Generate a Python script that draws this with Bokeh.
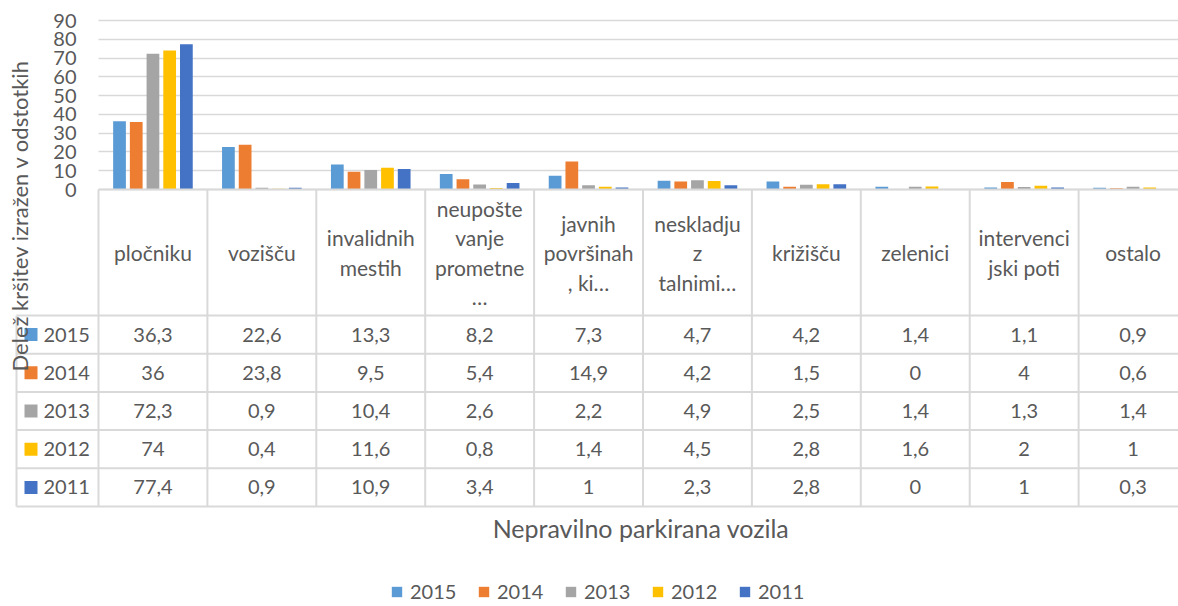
import numpy as np
from bokeh.plotting import figure
from bokeh.models import (ColumnDataSource, Range1d, LinearAxis, FixedTicker,
                          Legend, LegendItem, Grid)
from bokeh.transform import dodge
from bokeh.core.properties import value
from bokeh.embed import file_html
from bokeh.resources import INLINE

# ---------------- data ----------------
header_lines = [["pločniku"], ["vozišču"], ["invalidnih", "mestih"],
                ["neupošte", "vanje", "prometne", "…"],
                ["javnih", "površinah", ", ki…"],
                ["neskladju", "z", "talnimi…"],
                ["križišču"], ["zelenici"], ["intervenci", "jski poti"], ["ostalo"]]
years = ["2015", "2014", "2013", "2012", "2011"]
v2015 = [36.3, 22.6, 13.3, 8.2, 7.3, 4.7, 4.2, 1.4, 1.1, 0.9]
v2014 = [36, 23.8, 9.5, 5.4, 14.9, 4.2, 1.5, 0, 4, 0.6]
v2013 = [72.3, 0.9, 10.4, 2.6, 2.2, 4.9, 2.5, 1.4, 1.3, 1.4]
v2012 = [74, 0.4, 11.6, 0.8, 1.4, 4.5, 2.8, 1.6, 2, 1]
v2011 = [77.4, 0.9, 10.9, 3.4, 1, 2.3, 2.8, 0, 1, 0.3]
series = [v2015, v2014, v2013, v2012, v2011]
colors = ["#5B9BD5", "#ED7D31", "#A5A5A5", "#FFC000", "#4472C4"]
y_ticks = [0, 10, 20, 30, 40, 50, 60, 70, 80, 90]
y_title = "Delež kršitev izražen v odstotkih"
x_title = "Nepravilno parkirana vozila"

# ---------------- layout constants (page pixels) ----------------
OFF = 0
W, H = 1178, 606
PLOT_L = 98.0
COL_W = 108.9
Y0 = 189.0
PXU = 169.0 / 90.0
HDR_BOT = 315.0
ROW_H = 38.2
LEG_COL_L = 16.0
HDR_CY = 252.0
HDR_LS = 29.5
TITLE_CY = 215.0
FONT = "Lato"
TXT = "#595959"
LINE = "#D9D9D9"
BAR_STEP = 0.1535
BAR_W = 0.117
FS = "20px"
FS_HDR = "21px"

def xd(px):
    return (px - PLOT_L) / COL_W

def yd(py):
    return (Y0 - py) / PXU

n = len(header_lines)
p = figure(width=W, height=H, output_backend="svg", toolbar_location=None,
           x_range=Range1d(xd(OFF), xd(OFF + W)), y_range=Range1d(yd(OFF + H), yd(OFF)),
           min_border=0, x_axis_type=None, y_axis_type=None)
p.outline_line_color = None

# grid lines (value axis)
x_end = float(n)
if "cross_bounds" in Grid.properties():
    g = Grid(dimension=1, ticker=FixedTicker(ticks=y_ticks), cross_bounds=(0, x_end),
             grid_line_color=LINE, grid_line_width=1.5)
    p.add_layout(g)
else:
    p.segment(x0=[0] * len(y_ticks), x1=[x_end] * len(y_ticks), y0=y_ticks, y1=y_ticks,
              line_color=LINE, line_width=1.5, level="underlay")

# y axis
lo = 2 * yd(TITLE_CY) - (y_ticks[-1] + 0.5)
yax = LinearAxis(fixed_location=0, ticker=FixedTicker(ticks=y_ticks),
                 bounds=(lo, y_ticks[-1] + 0.5),
                 axis_label=y_title, axis_line_color=None,
                 major_tick_line_color=None, minor_tick_line_color=None,
                 major_tick_in=0, major_tick_out=0, major_label_standoff=22,
                 major_label_text_font=FONT, major_label_text_font_size=FS,
                 major_label_text_color=TXT,
                 axis_label_text_font=FONT, axis_label_text_font_size="22px",
                 axis_label_text_font_style="normal", axis_label_text_color=TXT,
                 axis_label_standoff=17)
p.add_layout(yax, "left")

# x axis title
tbl_bot = HDR_BOT + ROW_H * len(years)
xax = LinearAxis(fixed_location=yd(tbl_bot), ticker=FixedTicker(ticks=[]),
                 bounds=(0.05, x_end + 0.05), axis_label=x_title, axis_line_color=None,
                 major_tick_line_color=None, minor_tick_line_color=None,
                 major_label_text_font_size="0px",
                 axis_label_text_font=FONT, axis_label_text_font_size="25px",
                 axis_label_text_font_style="normal", axis_label_text_color=TXT,
                 axis_label_standoff=6)
p.add_layout(xax, "below")

# bars
data = dict(x=np.arange(n) + 0.5)
for yr, vals in zip(years, series):
    data[yr] = vals
src = ColumnDataSource(data)
renderers = []
for k, (yr, col) in enumerate(zip(years, colors)):
    r = p.vbar(x=dodge("x", (k - 2) * BAR_STEP), top=yr, bottom=0, width=BAR_W,
               source=src, fill_color=col, line_color=None)
    renderers.append(r)

# data table lines
row_tops = [HDR_BOT + ROW_H * i for i in range(len(years) + 1)]
hx0 = [xd(PLOT_L)] + [xd(LEG_COL_L)] * len(row_tops)
hx1 = [x_end] * (len(row_tops) + 1)
hy = [yd(Y0)] + [yd(t) for t in row_tops]
p.segment(x0=hx0, x1=hx1, y0=hy, y1=hy, line_color=LINE, line_width=2)
vx = [xd(LEG_COL_L)] + list(range(n + 1))
vy0 = [yd(HDR_BOT)] + [yd(Y0)] * (n + 1)
vy1 = [yd(tbl_bot)] * (n + 2)
p.segment(x0=vx, x1=vx, y0=vy0, y1=vy1, line_color=LINE, line_width=2)

# header texts
hx, hyy, ht = [], [], []
for i, lines in enumerate(header_lines):
    m = len(lines)
    for j, t in enumerate(lines):
        hx.append(i + 0.5)
        hyy.append(yd(HDR_CY + (j - (m - 1) / 2) * HDR_LS))
        ht.append(t)
p.text(x=hx, y=hyy, text=ht, text_align="center", text_baseline="middle",
       text_font=value(FONT), text_font_size=FS_HDR, text_color=TXT)

# values
def fmt(v):
    return f"{v:g}".replace(".", ",")

tx, ty, tt = [], [], []
for r_i, vals in enumerate(series):
    cy = yd(HDR_BOT + ROW_H * (r_i + 0.5))
    for i, v in enumerate(vals):
        tx.append(i + 0.5)
        ty.append(cy)
        tt.append(fmt(v))
p.text(x=tx, y=ty, text=tt, text_align="center", text_baseline="middle",
       text_font=value(FONT), text_font_size=FS, text_color=TXT)

# legend keys column in table
row_cy = [yd(HDR_BOT + ROW_H * (r_i + 0.5)) for r_i in range(len(years))]
p.scatter(x=[xd(30.5)] * len(years), y=row_cy, marker="square", size=13,
          fill_color=colors, line_color=None)
p.text(x=[xd(43)] * len(years), y=row_cy, text=years, text_align="left",
       text_baseline="middle", text_font=value(FONT), text_font_size=FS, text_color=TXT)

# bottom legend
leg = Legend(items=[LegendItem(label=yr, renderers=[r]) for yr, r in zip(years, renderers)],
             orientation="horizontal", location=(390 - OFF, 3),
             glyph_width=13, glyph_height=13, label_standoff=7, label_width=67,
             label_height=20, spacing=0, padding=0, margin=0,
             border_line_color=None, background_fill_alpha=0,
             label_text_font=FONT, label_text_font_size=FS, label_text_color=TXT)
p.add_layout(leg)

open("out.html", "w").write(file_html(p, INLINE))
